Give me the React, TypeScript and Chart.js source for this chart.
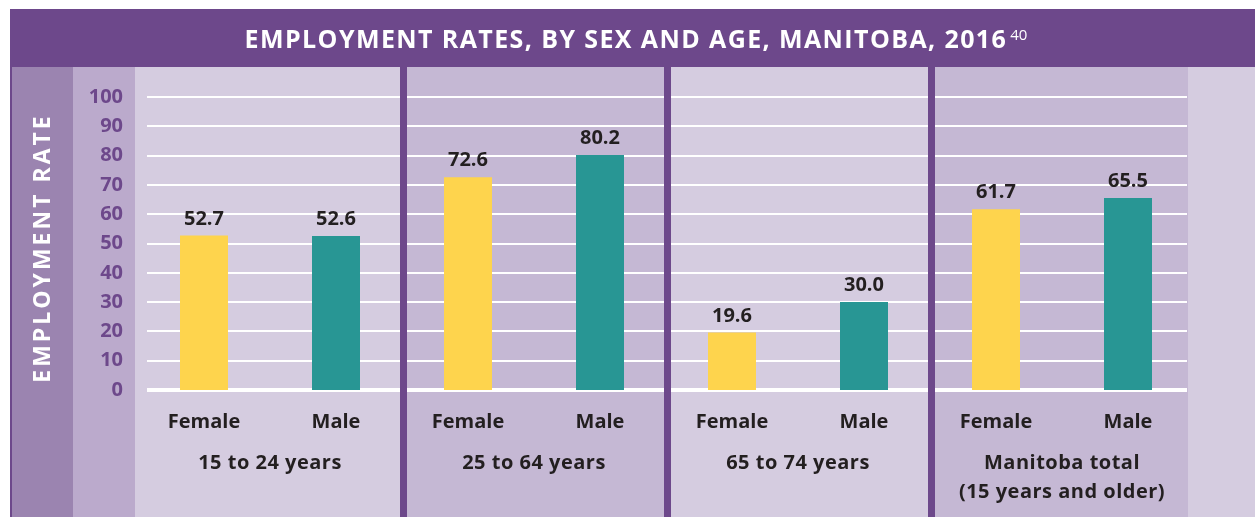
import React, { useEffect, useRef } from "react";
import { Chart, registerables } from "chart.js";

Chart.register(...registerables);

const groups: string[][] = [
  ["15 to 24 years"],
  ["25 to 64 years"],
  ["65 to 74 years"],
  ["Manitoba total", "(15 years and older)"],
];
const sexes = ["Female", "Male"];
const femaleRates = [52.7, 72.6, 19.6, 61.7];
const maleRates = [52.6, 80.2, 30.0, 65.5];
const yTicks = [0, 10, 20, 30, 40, 50, 60, 70, 80, 90, 100];

const TITLE = "EMPLOYMENT RATES, BY SEX AND AGE, MANITOBA, 2016";
const TITLE_SUP = "40";
const Y_TITLE = "EMPLOYMENT RATE";

const W = 1255;
const H = 517;
const FONT = "'Open Sans', Lato, sans-serif";
const PURPLE = "rgb(109,72,139)";
const STRIP1 = "rgb(155,132,176)";
const STRIP2 = "rgb(187,170,204)";
const LIGHT = "rgb(213,204,224)";
const DARK = "rgb(197,184,212)";
const YELLOW = "rgb(254,212,77)";
const TEAL = "rgb(40,150,148)";
const TEXT = "rgb(35,31,32)";

const decorPlugin = {
  id: "decor",
  beforeDraw(chart: any) {
    const ctx = chart.ctx;
    const x = chart.scales.x;
    ctx.save();
    ctx.fillStyle = "#ffffff";
    ctx.fillRect(0, 0, W, H);
    // title bar
    ctx.fillStyle = PURPLE;
    ctx.fillRect(10, 9, W - 10, 58);
    ctx.fillRect(10, 67, 2, H - 67);
    ctx.fillStyle = STRIP1;
    ctx.fillRect(12, 67, 61, H - 67);
    ctx.fillStyle = STRIP2;
    ctx.fillRect(73, 67, 62, H - 67);
    // panels
    const n = groups.length;
    const bounds: number[] = [135];
    for (let i = 0; i < n - 1; i++) {
      const a = x.getPixelForValue(i * 2 + 1);
      const b = x.getPixelForValue(i * 2 + 2);
      bounds.push((a + b) / 2 + 1);
    }
    bounds.push(1188);
    for (let i = 0; i < n; i++) {
      ctx.fillStyle = i % 2 === 0 ? LIGHT : DARK;
      ctx.fillRect(bounds[i], 67, bounds[i + 1] - bounds[i], H - 67);
    }
    ctx.fillStyle = LIGHT;
    ctx.fillRect(1188, 67, W - 1188, H - 67);
    (chart as any).$bounds = bounds;
    ctx.restore();
  },
  beforeDatasetsDraw(chart: any) {
    const ctx = chart.ctx;
    const y = chart.scales.y;
    ctx.save();
    ctx.fillStyle = "#ffffff";
    for (const v of yTicks) {
      const py = y.getPixelForValue(v);
      const t = v === 0 ? 4 : 2;
      ctx.fillRect(147, Math.round(py - t / 2), 1187 - 147, t);
    }
    const bounds: number[] = (chart as any).$bounds || [];
    ctx.fillStyle = PURPLE;
    for (let i = 1; i < bounds.length - 1; i++) {
      ctx.fillRect(Math.round(bounds[i] - 3.5), 67, 7, H - 67);
    }
    ctx.restore();
  },
  afterDatasetsDraw(chart: any) {
    const ctx = chart.ctx;
    ctx.save();
    ctx.fillStyle = TEXT;
    ctx.font = `bold 20px ${FONT}`;
    ctx.textAlign = "center";
    ctx.textBaseline = "alphabetic";
    chart.data.datasets.forEach((ds: any, di: number) => {
      const meta = chart.getDatasetMeta(di);
      meta.data.forEach((el: any, i: number) => {
        const v = ds.data[i];
        if (v === null || v === undefined) return;
        ctx.fillText(Number(v).toFixed(1), el.x, el.y - 11);
      });
    });
    ctx.restore();
  },
  afterDraw(chart: any) {
    const ctx = chart.ctx;
    const x = chart.scales.x;
    ctx.save();
    // group labels
    ctx.fillStyle = TEXT;
    ctx.font = `bold 20px ${FONT}`;
    (ctx as any).letterSpacing = "0.5px";
    ctx.textAlign = "center";
    ctx.textBaseline = "middle";
    groups.forEach((lines, i) => {
      const cx = (x.getPixelForValue(i * 2) + x.getPixelForValue(i * 2 + 1)) / 2;
      lines.forEach((ln, j) => ctx.fillText(ln, cx, 463 + j * 29));
    });
    // title
    ctx.fillStyle = "#ffffff";
    ctx.textBaseline = "alphabetic";
    ctx.textAlign = "left";
    ctx.font = `bold 25px ${FONT}`;
    (ctx as any).letterSpacing = "1.4px";
    const w1 = ctx.measureText(TITLE).width;
    ctx.font = `15px ${FONT}`;
    (ctx as any).letterSpacing = "0px";
    const w2 = ctx.measureText(TITLE_SUP).width;
    const start = 636 - (w1 + 3 + w2) / 2;
    ctx.font = `bold 25px ${FONT}`;
    (ctx as any).letterSpacing = "1.4px";
    ctx.fillText(TITLE, start, 48);
    ctx.font = `15px ${FONT}`;
    (ctx as any).letterSpacing = "0px";
    ctx.fillText(TITLE_SUP, start + w1 + 3, 40);
    // y title
    ctx.translate(43, 248);
    ctx.rotate(-Math.PI / 2);
    ctx.font = `bold 23px ${FONT}`;
    (ctx as any).letterSpacing = "3px";
    ctx.textAlign = "center";
    ctx.textBaseline = "middle";
    ctx.fillText(Y_TITLE, 0, 0);
    ctx.restore();
  },
};

export default function App() {
  const ref = useRef<HTMLCanvasElement | null>(null);
  useEffect(() => {
    if (!ref.current) return;
    const labels = groups.flatMap(() => sexes);
    const femaleData = femaleRates.flatMap((v) => [v, null]);
    const maleData = maleRates.flatMap((v) => [null, v]);
    const chart = new Chart(ref.current, {
      type: "bar",
      data: {
        labels,
        datasets: [
          {
            label: "Female",
            data: femaleData as any,
            backgroundColor: YELLOW,
            grouped: false,
            categoryPercentage: 1,
            barPercentage: 48 / 132,
          } as any,
          {
            label: "Male",
            data: maleData as any,
            backgroundColor: TEAL,
            grouped: false,
            categoryPercentage: 1,
            barPercentage: 48 / 132,
          } as any,
        ],
      },
      options: {
        responsive: false,
        animation: false,
        devicePixelRatio: 1,
        layout: { padding: { top: 97, right: 61, left: 0, bottom: 0 } },
        plugins: { legend: { display: false }, tooltip: { enabled: false }, title: { display: false } },
        scales: {
          x: {
            grid: { display: false, drawTicks: false },
            border: { display: false },
            ticks: {
              color: TEXT,
              font: { family: FONT, size: 20, weight: "bold" },
              padding: 20,
              maxRotation: 0,
              autoSkip: false,
            },
            afterFit: (s: any) => {
              s.height = 127;
            },
          },
          y: {
            min: 0,
            max: 100,
            grid: { display: false, drawTicks: false },
            border: { display: false },
            ticks: {
              stepSize: 10,
              color: PURPLE,
              font: { family: FONT, size: 20, weight: "bold" },
              padding: 15,
            },
            afterFit: (s: any) => {
              s.width = 138;
            },
          },
        },
      },
      plugins: [decorPlugin],
    });
    return () => chart.destroy();
  }, []);
  return (
    <div style={{ position: "absolute", left: 0, top: 0, width: W, height: H }}>
      <canvas ref={ref} width={W} height={H} style={{ display: "block", width: W, height: H }} />
    </div>
  );
}
